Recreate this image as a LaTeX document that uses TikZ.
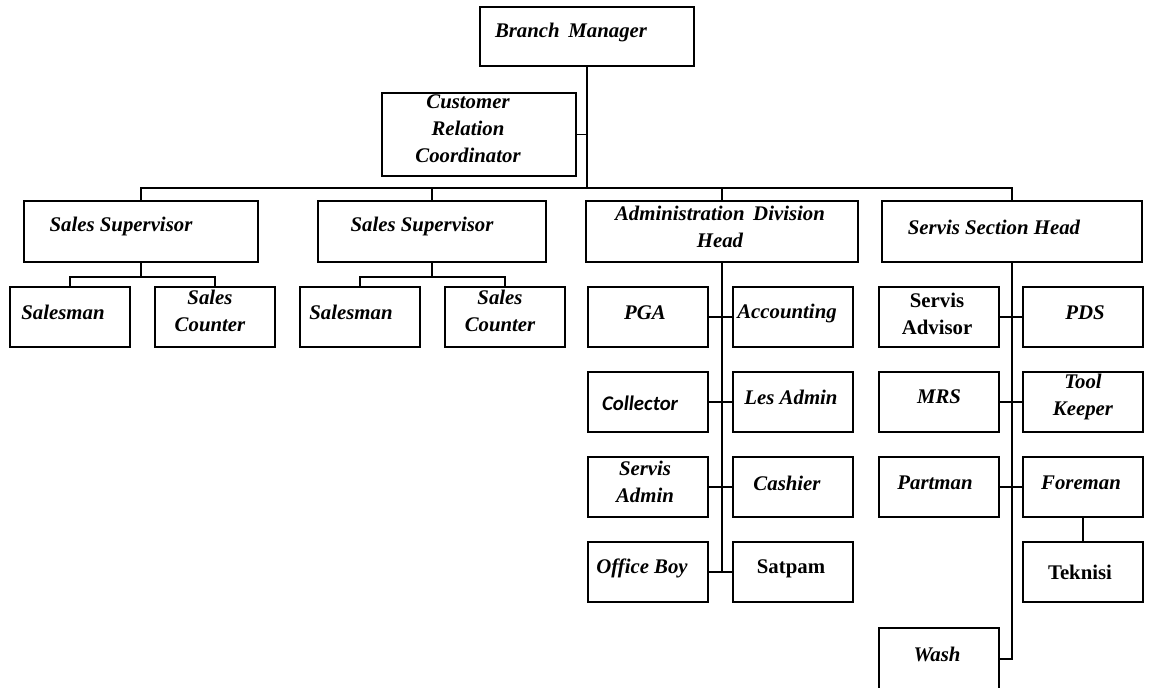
\documentclass[tikz,border=0pt]{standalone}
\usepackage{fontspec}
\setmainfont{Liberation Serif}
\newfontfamily\calfont{Carlito}
\begin{document}
\begin{tikzpicture}[x=0.5pt,y=-0.5pt,
    box/.style={draw=black, line width=0.9pt, inner sep=0pt},
    cell/.style={box, minimum width=60pt, minimum height=30pt},
    lbl/.style={inner sep=0pt, align=center, font=\fontsize{10.4}{13.5}\selectfont\bfseries\itshape},
    uplbl/.style={lbl, font=\fontsize{10.4}{13.5}\selectfont\bfseries},
    link/.style={black, line width=0.9pt}]
    \useasboundingbox (0,0) rectangle (1149,687);
    \clip (0,0) rectangle (1149,687);
    % top
    \node[box, minimum width=107pt, minimum height=29.5pt] (bm) at (587,36.5) {};
    \node[lbl] (bm-t) at (571,32) {Branch\, Manager};
    \node[box, minimum width=97pt, minimum height=41.5pt] (crc) at (479,134.5) {};
    \node[lbl] (crc-t) at (468,129) {Customer\\Relation\\Coordinator};
    % second level
    \node[box, minimum width=117pt, minimum height=30.5pt] (ss1) at (141,231.5) {};
    \node[lbl] (ss1-t) at (121,226) {Sales Supervisor};
    \node[box, minimum width=114pt, minimum height=30.5pt] (ss2) at (432,231.5) {};
    \node[lbl] (ss2-t) at (422,226) {Sales Supervisor};
    \node[box, minimum width=136pt, minimum height=30.5pt] (adh) at (722,231.5) {};
    \node[lbl] (adh-t) at (720,227) {Administration\, Division\\Head};
    \node[box, minimum width=130pt, minimum height=30.5pt] (ssh) at (1012,231.5) {};
    \node[lbl] (ssh-t) at (994,227) {Servis Section Head};
    % sales
    \node[cell] (sm1) at (70,317) {};
    \node[lbl] (sm1-t) at (63,312) {Salesman};
    \node[cell] (sc1) at (215,317) {};
    \node[lbl] (sc1-t) at (210,311) {Sales\\Counter};
    \node[cell] (sm2) at (360,317) {};
    \node[lbl] (sm2-t) at (351,312) {Salesman};
    \node[cell] (sc2) at (505,317) {};
    \node[lbl] (sc2-t) at (500,311) {Sales\\Counter};
    % administration
    \node[cell] (pga) at (648,317) {};
    \node[lbl] (pga-t) at (645,313) {PGA};
    \node[cell] (acc) at (793,317) {};
    \node[lbl] (acc-t) at (787,313) {Accounting};
    \node[cell] (col) at (648,402) {};
    \node[lbl, font=\fontsize{10.4}{13.5}\selectfont\calfont\bfseries\itshape] (col-t) at (640,403) {Collector};
    \node[cell] (les) at (793,402) {};
    \node[lbl] (les-t) at (791,397) {Les Admin};
    \node[cell] (sad) at (648,487) {};
    \node[lbl] (sad-t) at (645,482) {Servis\\Admin};
    \node[cell] (cas) at (793,487) {};
    \node[lbl] (cas-t) at (787,483) {Cashier};
    \node[cell] (ob) at (648,572) {};
    \node[lbl] (ob-t) at (642,568) {Office Boy};
    \node[cell] (sat) at (793,572) {};
    \node[uplbl] (sat-t) at (791,569) {Satpam};
    % servis
    \node[cell] (sva) at (939,317) {};
    \node[uplbl] (sva-t) at (937,314) {Servis\\Advisor};
    \node[cell] (pds) at (1083,317) {};
    \node[lbl] (pds-t) at (1085,313) {PDS};
    \node[cell] (mrs) at (939,402) {};
    \node[lbl] (mrs-t) at (939,397) {MRS};
    \node[cell] (tk) at (1083,402) {};
    \node[lbl] (tk-t) at (1083,397) {Tool\\Keeper};
    \node[cell] (pm) at (939,487) {};
    \node[lbl] (pm-t) at (935,483) {Partman};
    \node[cell] (fm) at (1083,487) {};
    \node[lbl] (fm-t) at (1081,483) {Foreman};
    \node[cell] (tek) at (1083,572) {};
    \node[uplbl] (tek-t) at (1080,572) {Teknisi};
    \node[cell, minimum height=31pt] (wash) at (939,659) {};
    \node[lbl] (wash-t) at (937,654) {Wash};
    % lines
    \coordinate (bus) at (588,188);
    \draw[link] (bm.south) -- (bm.south |- bus);
    \draw[link] (crc.east) -- (crc.east -| bm.south);
    \draw[link] (ss1.north) |- (ssh.north |- bus) -- (ssh.north);
    \draw[link] (ss2.north) -- (ss2.north |- bus);
    \draw[link] (adh.north) -- (adh.north |- bus);
    \draw[link] (ss1.south) -- ++(0,14) -| (sm1.north);
    \draw[link] (ss1.south) ++(0,14) -| (sc1.north);
    \draw[link] (ss2.south) -- ++(0,14) -| (sm2.north);
    \draw[link] (ss2.south) ++(0,14) -| (sc2.north);
    \draw[link] (adh.south) -- (adh.south |- ob.east);
    \draw[link] (pga.east) -- (acc.west);
    \draw[link] (col.east) -- (les.west);
    \draw[link] (sad.east) -- (cas.west);
    \draw[link] (ob.east) -- (sat.west);
    \draw[link] (ssh.south) |- (wash.east);
    \draw[link] (sva.east) -- (pds.west);
    \draw[link] (mrs.east) -- (tk.west);
    \draw[link] (pm.east) -- (fm.west);
    \draw[link] (fm) -- (tek);
\end{tikzpicture}
\end{document}
